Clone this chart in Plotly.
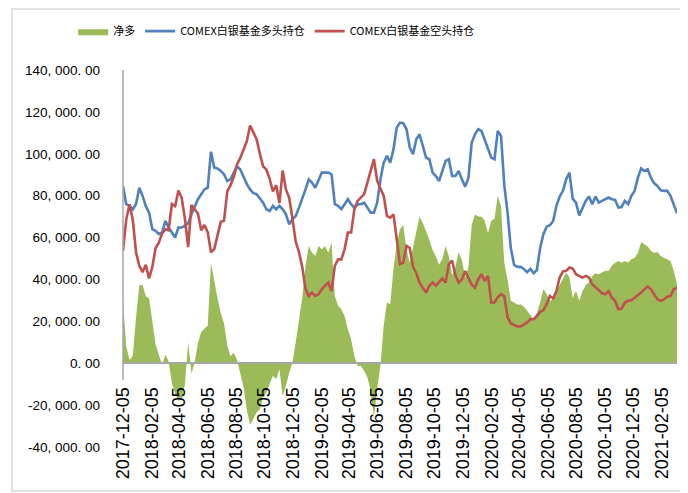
import pandas as pd
import plotly.graph_objects as go

# Weekly observations (Tuesdays), values in thousands of contracts
start_date = "2017-12-05"

net_k = [29, 8, 1.5, 3.5, 22, 37, 37.5, 32, 31, 20,
         9, 4, -1, 4, 1, -9.5, -14.5, -18, -17, -10,
         10, -5, 0.5, 9.5, 15, 16.5, 18, 48, 38.5, 31,
         24, 19, 8.5, 3.5, 5, 1.5, -5, -11.5, -22.5, -29.5,
         -26.5, -23.5, -22,
         -16.4, -14, -10, -6, -7.6, -2.9, -15.6, -10.8, -4.5, 0.3,
         9.9, 21.8, 31.3, 46.5, 56, 52.8, 51.2, 56, 54.4, 56,
         52.8, 57.6, 32.1, 27.4, 25.8, 22.6, 16.2, 11.5, 3.5, -1.3,
         -1.3, -3.7, -6.8, -13, -26, -12, -1, 18, 29, 28.2,
         45, 57, 64,
         66, 54, 48, 55, 63, 70, 67, 63, 59, 54,
         51, 47, 50, 56, 51, 42, 46, 53, 49, 41,
         46, 66, 71, 70, 70, 68, 62, 68, 69, 80,
         75, 48, 40, 30, 29, 28, 28, 27, 25, 23,
         21, 24, 29,
         35.3, 33, 29.8, 30.5, 34.5, 37.7, 40.9, 43.3, 40.9, 31.3,
         34.5, 29.8, 34.5, 37.2, 38.8, 41.7, 43, 42.5, 43.3, 44.1,
         44.1, 46.5, 48, 48.8, 48, 48.8, 48, 49.6, 50.4, 52.5,
         57.9, 56.8, 55.7, 53.6, 52.8, 53.1, 51.2, 50.4, 49.6, 48.8,
         44.1, 37.7]

long_k = [84.6, 75.9, 75.1, 73.5, 76, 83.8, 79.9, 75, 71.9, 64,
          63.2, 61.6, 62.4, 68, 64.8, 62.4, 60, 64.8, 64.8, 65.5,
          67, 71, 74.3, 78.3, 80.7, 83, 83.8, 101, 93.4, 93,
          91.8, 90.2, 87, 87.8, 91, 94, 92.5, 89, 85.5, 83,
          81.2, 80.7, 78.5,
          76.7, 73.5, 72.7, 75.1, 73.5, 75.1, 73.5, 71.1, 66.3, 68.7,
          70.3, 74.3, 78.3, 83, 87.8, 86.2, 83.8, 87.8, 91, 91,
          91, 90.2, 75.9, 75.1, 73.5, 75.9, 78.3, 75.9, 74.3, 75.9,
          75.9, 76.7, 74.3, 71.9, 71.9, 76.7, 87.8, 95.8, 99, 95.8,
          102.1, 112.5, 114.9,
          114.6, 111.7, 102.9, 99.8, 106.9, 109.3, 103.7, 98.2, 97.4, 91,
          89.4, 87, 91.8, 96.6, 97.4, 89.4, 89.4, 91.8, 87.8, 84.3,
          88.6, 105.3, 109.3, 111.7, 110.9, 106.9, 102.1, 98.2, 97.4, 110.9,
          108.5, 85, 72, 55, 47, 46, 46, 45, 43.5, 45,
          43, 44.5, 55,
          61.6, 65.2, 65.9, 67.9, 75.1, 79.6, 82.3, 87.8, 91, 78.6,
          76.7, 70.6, 74.3, 77.5, 79.6, 75.9, 79.6, 76.7, 77.5, 78.3,
          79.1, 78.3, 78, 74.3, 74.6, 77.5, 75.9, 79.9, 82.3, 88.6,
          93, 91.8, 92.6, 88.6, 85.9, 84.6, 82.6, 82.3, 82.3, 79.9,
          75.9, 71.6]

short_k = [53.6, 68.7, 75.9, 68.5, 53, 46.5, 43.5, 47, 40.5, 46,
           55, 57.6, 62, 64, 63.5, 76, 75, 82.5, 79, 69,
           55.5, 75.5, 73.5, 71.5, 63.5, 66, 62.5, 53, 54.5, 60.5,
           67.5, 68, 82, 85, 89, 95, 98, 102, 106, 113.5,
           110.5, 107, 100,
           94, 92.5, 88, 82, 85, 76.5, 92, 83, 79, 69,
           58, 53, 46, 35.5, 32, 33.7, 32.1, 32.9, 35.3, 36.9,
           38.5, 34.5, 46.5, 49.6, 49.6, 54.4, 62.4, 62.4, 73.5, 77.5,
           79.1, 80.7, 86.2, 91.8, 97.4, 87, 83, 79.9, 70.3, 69.5,
           71.1, 59.2, 47.3,
           48, 56, 55, 46, 43, 38.5, 36, 33.7, 37, 38.5,
           37, 39, 40.5, 38.5, 47.3, 49, 42, 38.5, 40, 44,
           41, 37.5, 36, 40, 42.5, 39.3, 41.7, 29, 29, 31.5,
           33, 32, 22, 19, 18.3, 17.5, 17.5, 18.5, 19.5, 21,
           21, 22.5, 24.5,
           25.3, 28.2, 32.1, 30.9, 34.5, 40.9, 43.8, 44.1, 45.7, 45.2,
           42.5, 41.7, 40.9, 41.7, 40.9, 37.7, 36.1, 34.5, 33.4, 32.9,
           34.5, 31.3, 29.8, 25.8, 26.1, 29, 29.8, 30.1, 31.3, 32.1,
           33.7, 35.3, 36.6, 35.3, 32.9, 30.5, 29.8, 30.5, 31.8, 32.1,
           35.3, 36.1]

series_names = ["净多", "COMEX白银基金多头持仓", "COMEX白银基金空头持仓"]

x_tick_labels = ["2017-12-05", "2018-02-05", "2018-04-05", "2018-06-05",
                 "2018-08-05", "2018-10-05", "2018-12-05", "2019-02-05",
                 "2019-04-05", "2019-06-05", "2019-08-05", "2019-10-05",
                 "2019-12-05", "2020-02-05", "2020-04-05", "2020-06-05",
                 "2020-08-05", "2020-10-05", "2020-12-05", "2021-02-05"]

y_tick_values = [-40000, -20000, 0, 20000, 40000, 60000, 80000,
                 100000, 120000, 140000]
y_tick_labels = ["-40, 000. 00", "-20, 000. 00", "0. 00", "20, 000. 00",
                 "40, 000. 00", "60, 000. 00", "80, 000. 00",
                 "100, 000. 00", "120, 000. 00", "140, 000. 00"]

dates = pd.date_range(start=start_date, periods=len(long_k), freq="7D")
net = [v * 1000 for v in net_k]
long_pos = [v * 1000 for v in long_k]
short_pos = [v * 1000 for v in short_k]

GREEN = "#9BBB59"
BLUE = "#4F81BD"
RED = "#C0504D"

fig = go.Figure()
fig.add_trace(go.Scatter(x=dates, y=net, name=series_names[0], mode="lines",
                         fill="tozeroy", fillcolor=GREEN,
                         line=dict(color=GREEN, width=0)))
fig.add_trace(go.Scatter(x=dates, y=long_pos, name=series_names[1], mode="lines",
                         line=dict(color=BLUE, width=2.6)))
fig.add_trace(go.Scatter(x=dates, y=short_pos, name=series_names[2], mode="lines",
                         line=dict(color=RED, width=2.6)))

ymin, ymax = -40000, 140000
# The page body adds an 8px offset; size and margins compensate for it.
fig.update_layout(
    width=680, height=485,
    margin=dict(l=115, r=11, t=62, b=46, autoexpand=False),
    paper_bgcolor="white", plot_bgcolor="white",
    showlegend=True,
    legend=dict(orientation="h", x=-0.09, y=1.103, xanchor="left",
                yanchor="middle",
                font=dict(family="Noto Sans CJK SC", size=11, color="#000"),
                itemwidth=30, bgcolor="rgba(0,0,0,0)"),
    xaxis=dict(type="date", range=[dates[0], dates[-1]],
               tickvals=[pd.Timestamp(t) for t in x_tick_labels],
               ticktext=x_tick_labels, tickangle=-90,
               tickfont=dict(family="Liberation Sans", size=18, color="#000"),
               anchor="free", position=(0 - ymin) / (ymax - ymin),
               showline=True, linecolor="#A6A6A6", linewidth=1.5,
               showgrid=False, zeroline=False, ticks="",
               ticklabelstandoff=16),
    yaxis=dict(range=[ymin, ymax], tickvals=y_tick_values,
               ticktext=y_tick_labels,
               tickfont=dict(family="Liberation Sans", size=13.5, color="#000"),
               showgrid=False, zeroline=False, showline=False, ticks="",
               ticklabelstandoff=22),
    shapes=[
        dict(type="line", xref="paper", yref="y", x0=0, x1=0,
             y0=-8000, y1=ymax, line=dict(color="#A6A6A6", width=1.5)),
        dict(type="rect", xref="paper", yref="paper",
             x0=-0.2004, x1=1.0108, y0=-0.1167, y1=1.1618,
             line=dict(color="#D9D9D9", width=1.5)),
    ],
)

fig.write_html("out.html")
